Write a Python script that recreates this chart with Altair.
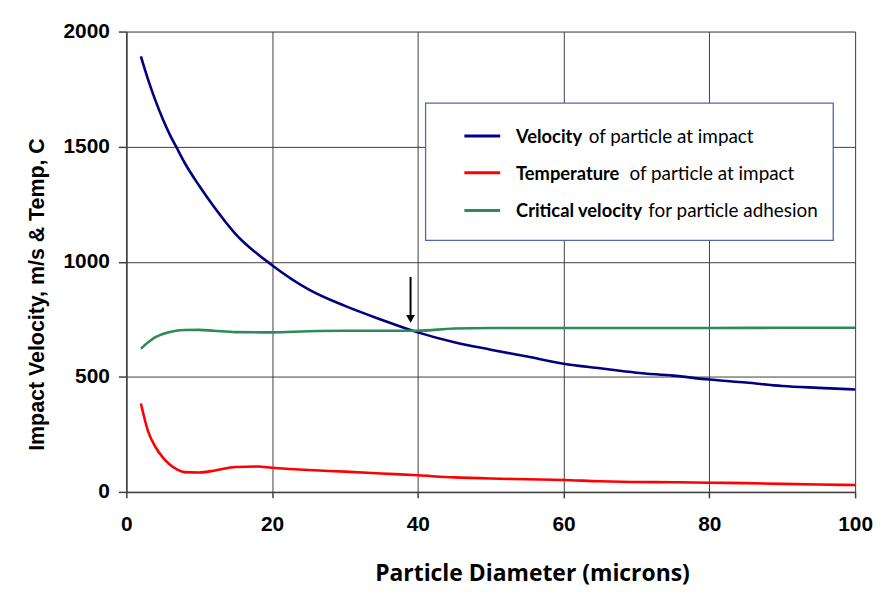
import altair as alt
import pandas as pd

# ---- data ----
vel_x = [2, 3, 4, 5, 6, 7, 8, 10, 12, 15, 20, 25, 30, 35, 40, 45, 50, 55, 60, 65, 70, 75, 80, 85, 90, 95, 100]
vel_y = [1892, 1790, 1700, 1620, 1550, 1490, 1430, 1330, 1240, 1120, 985, 880, 808, 748, 693, 650, 618, 588, 557, 537, 518, 505, 488, 475, 460, 452, 445]

temp_x = [2, 3, 4, 5, 6, 7, 8, 10, 12, 15, 18, 20, 25, 30, 35, 40, 45, 50, 55, 60, 65, 70, 75, 80, 85, 90, 95, 100]
temp_y = [384, 262, 195, 150, 118, 97, 86, 84, 92, 108, 110, 105, 95, 88, 80, 72, 63, 58, 55, 52, 46, 43, 42, 40, 38, 35, 32, 30]

crit_x = [2, 3, 4, 5, 6, 8, 10, 12, 15, 20, 25, 30, 40, 45, 50, 60, 70, 80, 90, 100]
crit_y = [622, 650, 672, 686, 695, 703, 704, 700, 694, 693, 698, 700, 700, 710, 712, 712, 712, 712, 713, 713]

series_names = ["Velocity", "Temperature", "Critical velocity"]
series_colors = ["#000080", "#ff0000", "#2e8b57"]
legend_bold = ["Velocity", "Temperature", "Critical velocity"]
legend_rest = ["of particle at impact", "of particle at impact", "for particle adhesion"]

arrow_x = [39]
arrow_top = [934]
arrow_head = [752]

x_ticks = [0, 20, 40, 60, 80, 100]
y_ticks = [0, 500, 1000, 1500, 2000]

# ---- build table ----
rows = []
for name, xs, ys in zip(series_names, [vel_x, temp_x, crit_x], [vel_y, temp_y, crit_y]):
    for i, (a, b) in enumerate(zip(xs, ys)):
        rows.append({"series": name, "d": a, "v": b, "o": i})
df = pd.DataFrame(rows)

W, H = 733, 463

xscale = alt.Scale(domain=[0, 100], nice=False)
yscale = alt.Scale(domain=[0, 2000], nice=False)

x_axis = alt.Axis(
    values=x_ticks, format="d", title="Particle Diameter (microns)", grid=True,
    labelFont="Liberation Sans", labelFontWeight="bold", labelFontSize=21, labelColor="#000",
    labelBaseline="alphabetic", labelPadding=33, tickSize=6,
    titleFont="Open Sans", titleFontWeight="bold", titleFontSize=23, titleColor="#000",
    titleX=408, titleY=89, titleBaseline="alphabetic", titleAlign="center", titleAnchor="middle",
    gridColor="#404040", gridWidth=1, gridOpacity=1,
    domainColor="#404040", domainWidth=1.5, tickColor="#404040", tickWidth=1.5,
    labelFlush=False,
)
y_axis = alt.Axis(
    values=y_ticks, format="d", title="Impact Velocity, m/s & Temp, C", grid=True,
    labelFont="Liberation Sans", labelFontWeight="bold", labelFontSize=21, labelColor="#000",
    labelPadding=9, tickSize=8, labelBaseline="middle",
    titleFont="Liberation Sans", titleFontWeight="bold", titleFontSize=21.5, titleColor="#000",
    titleX=-89, titleY=264, titleAngle=-90, titleBaseline="middle", titleAlign="center", titleAnchor="middle",
    gridColor="#404040", gridWidth=1, gridOpacity=1,
    domainColor="#404040", domainWidth=1.5, tickColor="#404040", tickWidth=1.5,
    labelFlush=False,
)

lines = alt.Chart(df).mark_line(strokeWidth=2.6, interpolate="monotone").encode(
    x=alt.X("d:Q", scale=xscale, axis=x_axis),
    y=alt.Y("v:Q", scale=yscale, axis=y_axis),
    color=alt.Color("series:N", scale=alt.Scale(domain=series_names, range=series_colors), legend=None),
    order="o:Q",
    detail="series:N",
)

arrow_df = pd.DataFrame({"d": arrow_x, "top": arrow_top, "head": arrow_head})
arrow_shaft = alt.Chart(arrow_df).mark_rule(color="#000", strokeWidth=2).encode(
    x=alt.X("d:Q", scale=xscale), y=alt.Y("top:Q", scale=yscale), y2="head:Q"
)
arrow_tip = alt.Chart(arrow_df).mark_point(shape="triangle-down", filled=True, color="#000", size=80, opacity=1).encode(
    x=alt.X("d:Q", scale=xscale), y=alt.Y("head:Q", scale=yscale)
)

one = pd.DataFrame({"k": [0]})
legend_layers = [
    alt.Chart(one).mark_rect(fill="white", stroke="#4a6aa8", strokeWidth=1.3).encode(
        x=alt.value(301), x2=alt.value(711), y=alt.value(72), y2=alt.value(210)
    )
]
row_y = [106, 143, 181]
rest_x = [465, 506, 525]
for i in range(3):
    legend_layers.append(
        alt.Chart(one).mark_rule(color=series_colors[i], strokeWidth=3).encode(
            x=alt.value(340), x2=alt.value(376), y=alt.value(row_y[i] - 1)
        )
    )
    legend_layers.append(
        alt.Chart(one).mark_text(align="left", baseline="middle", font="Lato", fontWeight="bold",
                                 fontSize=18.4, color="#000", text=legend_bold[i]).encode(
            x=alt.value(392), y=alt.value(row_y[i])
        )
    )
    legend_layers.append(
        alt.Chart(one).mark_text(align="left", baseline="middle", font="Lato", fontWeight="normal",
                                 fontSize=19, color="#000", text=legend_rest[i]).encode(
            x=alt.value(rest_x[i]), y=alt.value(row_y[i])
        )
    )

chart = alt.layer(lines, arrow_shaft, arrow_tip, *legend_layers).properties(
    width=W, height=H,
    autosize=alt.AutoSizeParams(type="none"),
    padding={"left": 119, "top": 22, "right": 20, "bottom": 99},
).configure_view(stroke=None).configure(background="white")

chart.save("out.html", embed_options={"renderer": "svg", "actions": False})
